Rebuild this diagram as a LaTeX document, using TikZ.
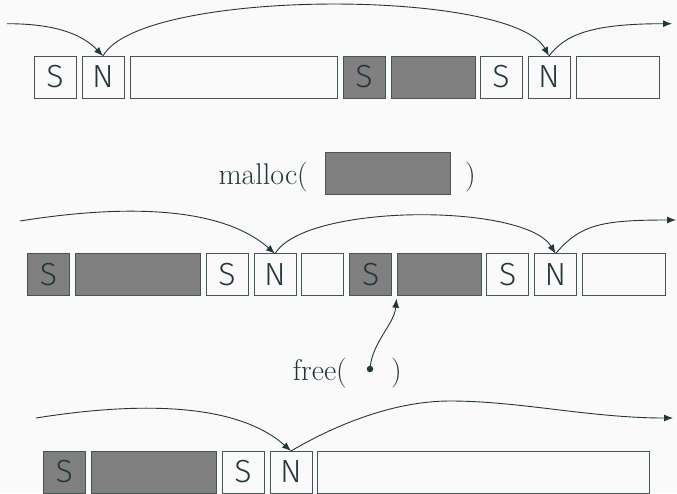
\documentclass[tikz,border=0pt]{standalone}
\usepackage{fontspec}
\newfontfamily\firasans[UprightFont={* Light}]{Fira Sans}
\usetikzlibrary{arrows.meta}
\definecolor{mdark}{HTML}{23373B}
\definecolor{mbg}{HTML}{FAFAFA}
\definecolor{mgray}{HTML}{808080}
\begin{document}
\begin{tikzpicture}[x=1pt,y=-1pt,
  cell/.style={draw=mdark!85, line width=0.9pt, minimum height=42pt, minimum width=42pt,
               inner sep=0pt, outer sep=0pt, font=\firasans\fontsize{32}{34}\selectfont, text=mdark},
  used/.style={cell, fill=mgray},
  lbl/.style={font=\fontsize{30}{32}\selectfont, text=mdark, inner sep=0pt},
  link/.style={draw=mdark, line width=0.9pt, -{Latex[length=9pt,width=7pt]}},
  plain/.style={draw=mdark, line width=0.9pt}]
\useasboundingbox[fill=mbg] (0,0) rectangle (677,493);

% Row 1
\node[cell] (S1a) at (55,77) {S};
\node[cell] (N1a) at (103,77) {N};
\node[cell, minimum width=207pt] (W1a) at (233.5,77) {};
\node[used] (GS1) at (364,77) {S};
\node[used, minimum width=84pt] (G1) at (433,77) {};
\node[cell] (S1b) at (501,77) {S};
\node[cell] (N1b) at (549,77) {N};
\node[cell, minimum width=83pt] (W1b) at (617.5,77) {};
\coordinate (in1) at (7,23.7);
\coordinate (out1) at (672,23.7);
\draw[link] (in1) .. controls (50,23.7) and (80,32) .. (N1a.north);
\draw[link] (N1a.north) .. controls (140,-12) and (512,-12) .. (N1b.north);
\draw[link] (N1b.north) .. controls (565,35) and (590,23.7) .. (out1);

% malloc
\node[lbl, anchor=base east] (mal) at (308,184) {malloc(};
\node[used, minimum width=125pt] (req) at (388.3,173.3) {};
\node[lbl, anchor=base west] (malc) at (465,184) {)};

% Row 2
\node[used] (GS2a) at (48.5,274.7) {S};
\node[used, minimum width=125pt] (G2a) at (137.8,274.7) {};
\node[cell] (S2a) at (227,274.7) {S};
\node[cell] (N2a) at (275,274.7) {N};
\node[cell] (W2a) at (322.7,274.7) {};
\node[used] (GS2b) at (370.7,274.7) {S};
\node[used, minimum width=83.5pt] (G2b) at (439.3,274.7) {};
\node[cell] (S2b) at (507.8,274.7) {S};
\node[cell] (N2b) at (555.5,274.7) {N};
\node[cell, minimum width=83.7pt] (W2b) at (624,274.7) {};
\coordinate (in2) at (20,221);
\coordinate (out2) at (676,220);
\draw[link] (in2) .. controls (120,205) and (220,205) .. (N2a.north);
\draw[link] (N2a.north) .. controls (305,203) and (525,203) .. (N2b.north);
\draw[link] (N2b.north) .. controls (580,225) and (600,220) .. (out2);

% free
\node[lbl, anchor=base east] (fre) at (347,380.5) {free(};
\node[circle, fill=mdark, inner sep=0pt, minimum size=6.5pt] (dot) at (370,369) {};
\node[lbl, anchor=base west] (frec) at (391,380.5) {)};
\draw[link] (dot.center) .. controls (372,342) and (394,325) .. ([shift={(-1,3)}]G2b.south west);

% Row 3
\node[used] (GS3) at (64.3,472) {S};
\node[used, minimum width=125pt] (G3) at (153.5,472) {};
\node[cell] (S3) at (243,472) {S};
\node[cell] (N3) at (291,472) {N};
\node[cell, minimum width=332pt] (W3) at (483.7,472) {};
\coordinate (in3) at (36,418);
\coordinate (mid3) at (450,401);
\coordinate (out3) at (673,418);
\draw[link] (in3) .. controls (136,402) and (236,402) .. (N3.north);
\draw[plain] (N3.north) .. controls (330,428) and (390,401) .. (mid3);
\draw[link] (mid3) .. controls (520,401) and (590,418) .. (out3);
\end{tikzpicture}
\end{document}
